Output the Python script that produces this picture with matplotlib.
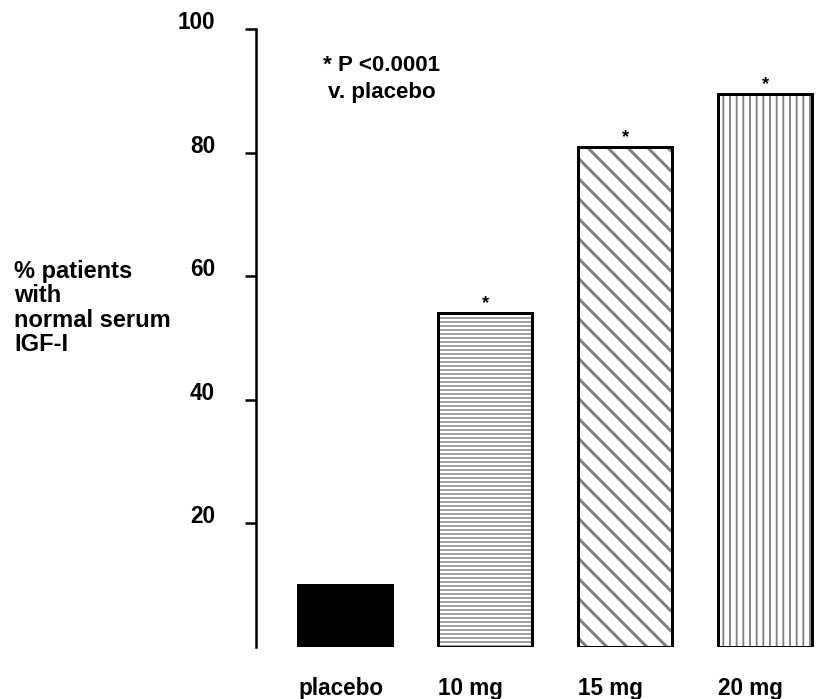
import matplotlib as mpl
import matplotlib.pyplot as plt
from matplotlib.transforms import ScaledTranslation

plt.rcParams['font.family'] = ['Liberation Sans', 'DejaVu Sans']
plt.rcParams['font.weight'] = 'bold'

groups = ["placebo", "10 mg", "15 mg", "20 mg"]
values = [10.0, 54.0, 81.0, 89.5]
hatches = [None, "-----", "\\\\", "|||"]
hatch_lw = [1.0, 0.9, 1.8, 1.1]
starred = [False, True, True, True]
yticks = [20, 40, 60, 80, 100]

fig = plt.figure(figsize=(6.8, 5.825), dpi=120)
ax = fig.add_axes([0.3137, 0.0751, 0.6863, 0.8827])

pos = list(range(len(groups)))
width = 0.67

for i, v in enumerate(values):
    if hatches[i] is None:
        ax.bar(pos[i], v, width, color="black", edgecolor="black", linewidth=1.8)
    else:
        # grey hatch first, black outline on top
        with mpl.rc_context({'hatch.linewidth': hatch_lw[i]}):
            ax.bar(pos[i], v, width, color="white", edgecolor="#808080",
                   hatch=hatches[i], linewidth=0)
        ax.bar(pos[i], v, width, fill=False, edgecolor="black", linewidth=1.8)
    if starred[i]:
        ax.annotate("*", (pos[i], v), xytext=(0, 0.5), textcoords="offset points",
                    ha="center", va="bottom", fontsize=11)

ax.set_xlim(-0.6357, 3.364)
ax.set_ylim(0, 100)

for s in ["top", "right", "bottom"]:
    ax.spines[s].set_visible(False)
ax.spines["left"].set_linewidth(1.5)

ax.set_yticks(yticks)
ax.set_yticklabels([str(t) for t in yticks])
ax.tick_params(axis="y", length=6.6, width=1.5, pad=18, labelsize=13.5)
off = ScaledTranslation(0, 9 / 120, fig.dpi_scale_trans)
for lab in ax.get_yticklabels():
    lab.set_transform(lab.get_transform() + off)

ax.set_xticks([p - width / 2 for p in pos])
ax.set_xticklabels(groups, ha="left", fontsize=13.5)
ax.tick_params(axis="x", length=0, pad=18)

ax.text(0.264, 92.0, "* P <0.0001\nv. placebo", ha="center", va="center",
        fontsize=13.4, linespacing=1.38)

fig.text(14 / 816, 1 - 308 / 699, "% patients\nwith\nnormal serum\nIGF-I",
         ha="left", va="center", fontsize=14.2, linespacing=1.07)

fig.savefig("out.png", dpi=120)
